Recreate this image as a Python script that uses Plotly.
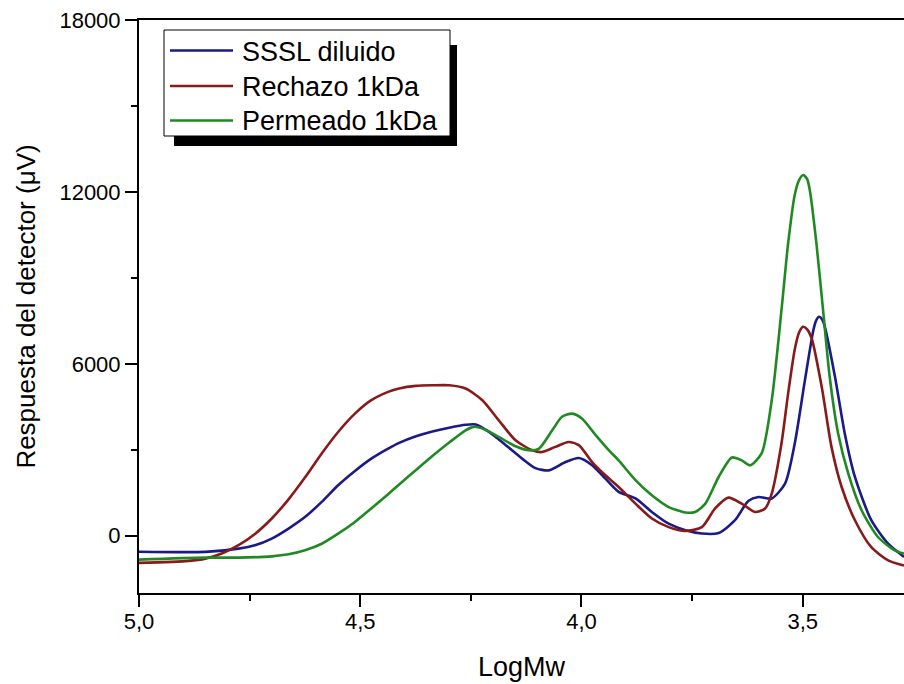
import plotly.graph_objects as go

# ---------------- data ----------------
series_names = ["SSSL diluido", "Rechazo 1kDa", "Permeado 1kDa"]
series_colors = ["#1a1a88", "#881a1a", "#1f8a22"]

blue_x = [5.000, 4.850, 4.775, 4.738, 4.700, 4.662, 4.625, 4.587, 4.550, 4.512, 4.475, 4.437,
          4.412, 4.374, 4.337, 4.299, 4.262, 4.239, 4.209, 4.171, 4.134, 4.104, 4.074, 4.036,
          4.006, 3.976, 3.946, 3.916, 3.878, 3.841, 3.803, 3.765, 3.728, 3.690, 3.653, 3.623,
          3.600, 3.570, 3.540, 3.518, 3.495, 3.476, 3.470, 3.463, 3.456, 3.450, 3.427, 3.405,
          3.382, 3.345, 3.307, 3.271]
blue_y = [-560, -565, -450, -335, -100, 250, 650, 1180, 1760, 2260, 2690, 3040,
          3240, 3470, 3640, 3770, 3870, 3880, 3620, 3160, 2690, 2360, 2280, 2570,
          2710, 2460, 1990, 1530, 1300, 830, 420, 190, 75, 95, 540, 1210,
          1350, 1300, 1820, 3220, 5430, 7170, 7500, 7640, 7550, 7290, 5540, 3570,
          2050, 540, -280, -740]

red_x = [5.000, 4.888, 4.850, 4.813, 4.775, 4.738, 4.700, 4.662, 4.625, 4.587, 4.550, 4.512,
         4.475, 4.437, 4.412, 4.374, 4.337, 4.299, 4.262, 4.224, 4.187, 4.149, 4.111, 4.089,
         4.059, 4.029, 4.006, 3.976, 3.946, 3.916, 3.878, 3.841, 3.803, 3.765, 3.728, 3.698,
         3.668, 3.638, 3.608, 3.585, 3.570, 3.548, 3.533, 3.518, 3.508, 3.499, 3.490, 3.480,
         3.457, 3.435, 3.412, 3.382, 3.345, 3.307, 3.271]
red_y = [-950, -880, -800, -620, -330, 60, 600, 1270, 2030, 2870, 3620, 4260,
         4730, 5020, 5140, 5230, 5250, 5250, 5140, 4730, 4030, 3330, 2980, 2920,
         3100, 3270, 3160, 2570, 2110, 1700, 1120, 600, 300, 165, 300, 950,
         1330, 1120, 830, 950, 1470, 3220, 4960, 6500, 7100, 7290, 7200, 6900,
         5190, 3100, 1700, 540, -400, -860, -1040]

green_x = [5.000, 4.850, 4.775, 4.700, 4.662, 4.625, 4.587, 4.550, 4.512, 4.475, 4.437, 4.412,
           4.374, 4.337, 4.299, 4.262, 4.243, 4.217, 4.187, 4.149, 4.119, 4.096, 4.066, 4.044,
           4.021, 3.999, 3.968, 3.938, 3.916, 3.878, 3.841, 3.803, 3.765, 3.743, 3.720, 3.690,
           3.660, 3.638, 3.619, 3.593, 3.570, 3.548, 3.533, 3.518, 3.508, 3.499, 3.490, 3.484,
           3.469, 3.454, 3.439, 3.420, 3.397, 3.367, 3.330, 3.292, 3.271]
green_y = [-835, -765, -765, -720, -650, -510, -280, 70, 480, 950, 1450, 1790,
           2290, 2780, 3250, 3680, 3800, 3700, 3450, 3120, 2980, 3040, 3680, 4150,
           4260, 4090, 3510, 2980, 2630, 1940, 1410, 1000, 810, 830, 1120, 2050,
           2730, 2630, 2460, 2870, 4730, 7870, 10200, 11900, 12420, 12590, 12450, 12060,
           10200, 7870, 5540, 3570, 2170, 890, -45, -510, -625]

x_tick_vals = [5.0, 4.5, 4.0, 3.5]
x_tick_text = ["5,0", "4,5", "4,0", "3,5"]
x_minor_vals = [4.75, 4.25, 3.75, 3.25]
y_tick_vals = [0, 6000, 12000, 18000]
y_tick_text = ["0", "6000", "12000", "18000"]
y_minor_vals = [-3000, 3000, 9000, 15000]

x_title = "LogMw"
y_title = "Respuesta del detector (\u03bcV)"

# ---------------- figure ----------------
FONT = "Liberation Sans, Arial, sans-serif"
W, H = 904, 684
ML, MR, MT, MB = 139, 0, 20, 91
PW, PH = W - ML - MR, H - MT - MB

def px2paper(px, py):
    return (px - ML) / PW, (H - MB - py) / PH

fig = go.Figure()
all_x = [blue_x, red_x, green_x]
all_y = [blue_y, red_y, green_y]
for xs, ys, name, col in zip(all_x, all_y, series_names, series_colors):
    fig.add_trace(go.Scatter(x=xs, y=ys, mode="lines", name=name,
                             line=dict(color=col, width=2.6, shape="spline", smoothing=0.7),
                             showlegend=False))

# legend drawn as shadowed box (Origin style)
shapes = []
x0, y0 = px2paper(174, 146)
x1, y1 = px2paper(457, 45)
shapes.append(dict(type="rect", xref="paper", yref="paper", x0=x0, y0=y0, x1=x1, y1=y1,
                   fillcolor="black", line=dict(width=0), layer="above"))
x0, y0 = px2paper(164, 136)
x1, y1 = px2paper(450, 30)
shapes.append(dict(type="rect", xref="paper", yref="paper", x0=x0, y0=y0, x1=x1, y1=y1,
                   fillcolor="white", line=dict(color="black", width=1), layer="above"))
annotations = []
row_y = [50.5, 86, 120.5]
for ry, name, col in zip(row_y, series_names, series_colors):
    lx0, ly = px2paper(170, ry)
    lx1, _ = px2paper(233, ry)
    shapes.append(dict(type="line", xref="paper", yref="paper", x0=lx0, x1=lx1, y0=ly, y1=ly,
                       line=dict(color=col, width=2.6), layer="above"))
    tx, ty = px2paper(240, ry + 1)
    annotations.append(dict(text=name, xref="paper", yref="paper", x=tx, y=ty,
                            xanchor="left", yanchor="middle", showarrow=False,
                            font=dict(family=FONT, size=27, color="black")))

fig.update_layout(
    width=W, height=H,
    margin=dict(l=ML, r=MR, t=MT, b=MB),
    paper_bgcolor="white", plot_bgcolor="white",
    font=dict(family=FONT, color="black"),
    shapes=shapes, annotations=annotations,
    showlegend=False,
)
fig.update_xaxes(
    range=[5.0, 3.2711], autorange=False,
    tickmode="array", tickvals=x_tick_vals, ticktext=x_tick_text,
    ticks="outside", ticklen=12, tickwidth=2, tickcolor="black",
    ticklabelstandoff=-4,
    tickfont=dict(family=FONT, size=22, color="black"),
    minor=dict(tickmode="array", tickvals=x_minor_vals, ticks="outside", ticklen=6,
               tickwidth=2, tickcolor="black", showgrid=False),
    showline=True, linecolor="black", linewidth=2, mirror=True,
    showgrid=False, zeroline=False,
    title=dict(text=x_title, font=dict(family=FONT, size=27, color="black"), standoff=24),
)
fig.update_yaxes(
    range=[-2000, 18000], autorange=False,
    tickmode="array", tickvals=y_tick_vals, ticktext=y_tick_text,
    ticks="outside", ticklen=12, tickwidth=2, tickcolor="black",
    tickfont=dict(family=FONT, size=22, color="black"),
    minor=dict(tickmode="array", tickvals=y_minor_vals, ticks="outside", ticklen=6,
               tickwidth=2, tickcolor="black", showgrid=False),
    showline=True, linecolor="black", linewidth=2, mirror=False,
    showgrid=False, zeroline=False,
    title=dict(text=y_title, font=dict(family=FONT, size=26, color="black"), standoff=16),
)

fig.write_html("out.html")
